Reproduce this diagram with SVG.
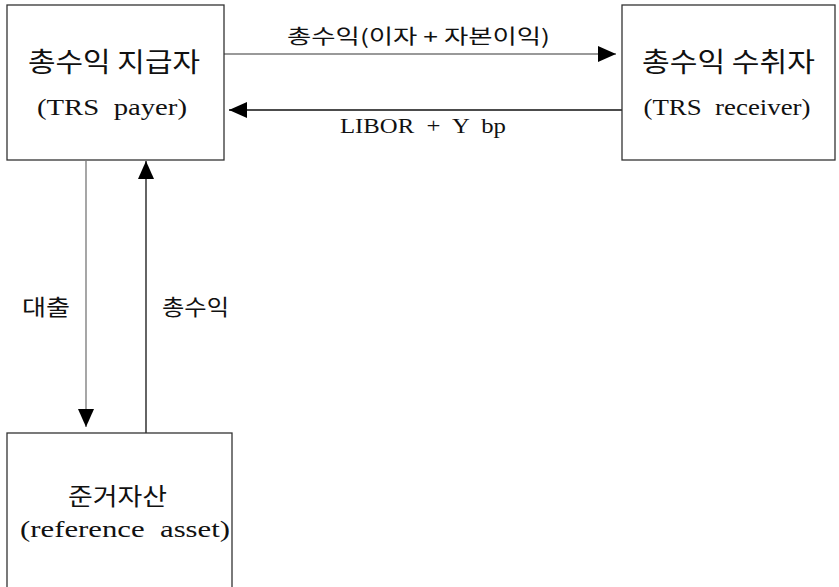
<svg xmlns="http://www.w3.org/2000/svg" width="839" height="587" viewBox="0 0 839 587">
  <style>
    .box { fill: #ffffff; stroke: #333333; stroke-width: 1.3; }
    .ko { font-family: "Noto Sans CJK KR", "Noto Sans", sans-serif; fill: #111111; text-anchor: middle; }
    .en { font-family: "Liberation Serif", "DejaVu Serif", serif; fill: #111111; text-anchor: middle; }
    .link { fill: none; stroke-width: 1.3; }
    .grey { stroke: #777777; }
    .dark { stroke: #111111; }
  </style>
  <defs>
    <marker id="arrow" markerUnits="userSpaceOnUse" markerWidth="20" markerHeight="16" refX="18" refY="8" orient="auto">
      <path d="M0,0 L18,8 L0,16 Z" fill="#000000"/>
    </marker>
  </defs>
  <rect width="839" height="587" fill="#ffffff"/>

  <!-- connectors -->
  <g id="connectors">
    <line class="link grey" x1="224" y1="54" x2="616" y2="54" marker-end="url(#arrow)"/>
    <line class="link dark" x1="622" y1="110" x2="229" y2="110" marker-end="url(#arrow)"/>
    <line class="link grey" x1="86" y1="161" x2="86" y2="427" marker-end="url(#arrow)"/>
    <line class="link dark" x1="146" y1="433" x2="146" y2="161" marker-end="url(#arrow)"/>
    <text class="ko" x="418.5" y="44" font-size="20" textLength="263" lengthAdjust="spacingAndGlyphs">총수익(이자 + 자본이익)</text>
    <text class="en" x="423" y="133" font-size="22" textLength="166" lengthAdjust="spacingAndGlyphs" xml:space="preserve">LIBOR  +  Y  bp</text>
    <text class="ko" x="46" y="315" font-size="22" textLength="48" lengthAdjust="spacingAndGlyphs">대출</text>
    <text class="ko" x="195.5" y="315" font-size="22" textLength="67" lengthAdjust="spacingAndGlyphs">총수익</text>
  </g>

  <!-- TRS payer -->
  <g id="payer">
    <rect class="box" x="7" y="5" width="217" height="155"/>
    <text class="ko" x="114" y="72" font-size="27" textLength="172" lengthAdjust="spacingAndGlyphs">총수익 지급자</text>
    <text class="en" x="112" y="115" font-size="23" textLength="150" lengthAdjust="spacingAndGlyphs" xml:space="preserve">(TRS  payer)</text>
  </g>

  <!-- TRS receiver -->
  <g id="receiver">
    <rect class="box" x="622" y="5" width="213" height="155"/>
    <text class="ko" x="728.5" y="72" font-size="27" textLength="173" lengthAdjust="spacingAndGlyphs">총수익 수취자</text>
    <text class="en" x="727" y="115" font-size="23" textLength="167" lengthAdjust="spacingAndGlyphs" xml:space="preserve">(TRS  receiver)</text>
  </g>

  <!-- reference asset -->
  <g id="asset">
    <rect class="box" x="7" y="433" width="225" height="170"/>
    <text class="ko" x="117.5" y="505" font-size="24" textLength="99" lengthAdjust="spacingAndGlyphs">준거자산</text>
    <text class="en" x="125" y="537" font-size="24" textLength="210" lengthAdjust="spacingAndGlyphs" xml:space="preserve">(reference  asset)</text>
  </g>
</svg>
